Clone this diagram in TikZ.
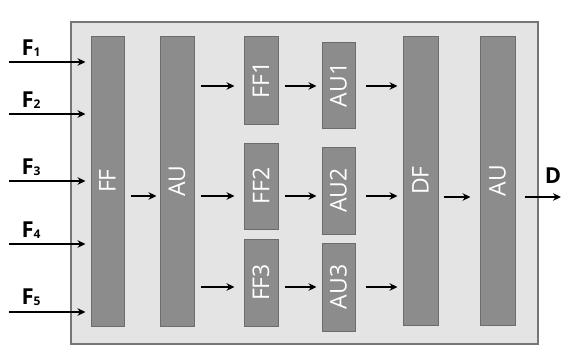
\documentclass[tikz,border=0pt]{standalone}
\usepackage{fontspec}
\setmainfont{Open Sans}
\usetikzlibrary{arrows.meta}
\definecolor{barfill}{RGB}{140,140,140}
\definecolor{barline}{RGB}{108,108,108}
\definecolor{outfill}{RGB}{228,228,228}
\definecolor{outline}{RGB}{118,118,118}
\newcommand{\insub}[2]{\textbf{#1\raisebox{-0.5pt}{\fontsize{12}{12}\selectfont #2}}}
\begin{document}
\begin{tikzpicture}[x=1pt,y=-1pt,
  bar/.style={draw=barline, line width=1pt, fill=barfill, inner sep=0pt,
    text=white, font=\fontsize{23}{26}\selectfont},
  arr/.style={line width=2pt, -{Stealth[length=8pt,width=7.5pt]}},
  flabel/.style={font=\fontsize{22}{24}\selectfont, inner sep=0pt}]
\useasboundingbox (0,0) rectangle (561,360);
\node[draw=outline, line width=1.2pt, fill=outfill, minimum width=467pt, minimum height=322pt, inner sep=0pt] (outer) at (304.5,183) {};
% bars
\node[bar, minimum width=33pt, minimum height=290pt] (ff) at (107.5,181) {\rotatebox{90}{FF}};
\node[bar, minimum width=34pt, minimum height=290pt] (au) at (177,181) {\rotatebox{90}{AU}};
\node[bar, minimum width=34pt, minimum height=88pt] (ff1) at (261,80) {\rotatebox{90}{FF1}};
\node[bar, minimum width=33pt, minimum height=86pt] (au1) at (338.5,85) {\rotatebox{90}{AU1}};
\node[bar, minimum width=34pt, minimum height=86pt] (ff2) at (261,186) {\rotatebox{90}{FF2}};
\node[bar, minimum width=33pt, minimum height=87pt] (au2) at (338.5,190.5) {\rotatebox{90}{AU2}};
\node[bar, minimum width=34pt, minimum height=87pt] (ff3) at (261,282.5) {\rotatebox{90}{FF3}};
\node[bar, minimum width=33pt, minimum height=88pt] (au3) at (338.5,287) {\rotatebox{90}{AU3}};
\node[bar, minimum width=35pt, minimum height=289pt] (df) at (420.5,180.5) {\rotatebox{90}{DF}};
\node[bar, minimum width=35pt, minimum height=289pt] (au4) at (497.5,180.5) {\rotatebox{90}{AU}};
% row coordinates
\coordinate (r1) at (0,86);
\coordinate (r2) at (0,196);
\coordinate (r3) at (0,287);
\coordinate (i1) at (9,62);
\coordinate (i2) at (9,114);
\coordinate (i3) at (9,181);
\coordinate (i4) at (9,244);
\coordinate (i5) at (9,312);
\coordinate (out) at (561,197);
% input labels
\node[flabel] (lf1) at (31,48) {\insub{F}{1}};
\node[flabel] (lf2) at (31,100) {\insub{F}{2}};
\node[flabel] (lf3) at (31,167) {\insub{F}{3}};
\node[flabel] (lf4) at (31,230) {\insub{F}{4}};
\node[flabel] (lf5) at (31,297) {\insub{F}{5}};
\node[flabel] (ld) at (553,176) {\textbf{D}};
% input arrows
\foreach \i in {1,...,5}{
  \draw[arr, shorten >=5pt] (i\i) -- (ff.west |- i\i);
}
% FF -> AU
\draw[arr, shorten <=6pt, shorten >=3pt] (ff.east |- r2) -- (au.west |- r2);
% AU -> FFk, FFk -> AUk, AUk -> DF
\draw[arr, shorten <=6pt, shorten >=9pt] (au.east |- r1) -- (ff1.west |- r1);
\draw[arr, shorten <=6pt, shorten >=9pt] (au.east |- r2) -- (ff2.west |- r2);
\draw[arr, shorten <=6pt, shorten >=9pt] (au.east |- r3) -- (ff3.west |- r3);
\draw[arr, shorten <=6pt, shorten >=5pt] (ff1.east |- r1) -- (au1.west |- r1);
\draw[arr, shorten <=6pt, shorten >=5pt] (ff2.east |- r2) -- (au2.west |- r2);
\draw[arr, shorten <=6pt, shorten >=5pt] (ff3.east |- r3) -- (au3.west |- r3);
\draw[arr, shorten <=10pt, shorten >=5pt] (au1.east |- r1) -- (df.west |- r1);
\draw[arr, shorten <=10pt, shorten >=5pt] (au2.east |- r2) -- (df.west |- r2);
\draw[arr, shorten <=10pt, shorten >=5pt] (au3.east |- r3) -- (df.west |- r3);
% DF -> AU -> out
\draw[arr, shorten <=5pt, shorten >=9pt] (df.east |- out) -- (au4.west |- out);
\draw[arr, shorten <=9pt] (au4.east |- out) -- (out);
\end{tikzpicture}
\end{document}
